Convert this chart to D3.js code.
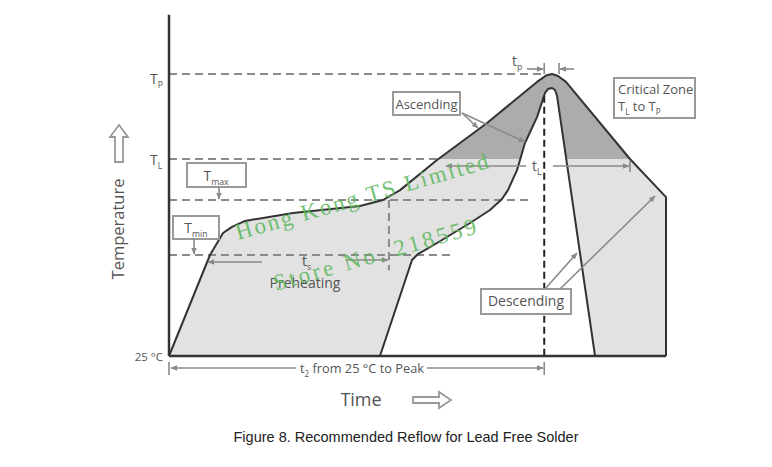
<!DOCTYPE html>
<html>
<head>
<meta charset="utf-8">
<script src="https://cdn.jsdelivr.net/npm/d3@7"></script>
<style>
  body { margin: 0; background: #fff; }
  svg { display: block; font-family: "Open Sans", sans-serif; }
</style>
</head>
<body>
<svg id="chart" width="772" height="467"></svg>
<script>
// temperature levels marked on the vertical axis
const levelKeys = ["ambient", "tmin", "tmax", "tl", "tp"];
const levelTemps = [25, 150, 200, 217, 260];
const levelGuideEnd = [null, 230, 289, 218, 302];   // time where each dashed guide stops
const topTemp = 290;
const endTime = 400;

// outer edge of the reflow window (fastest profile), time / temperature
const outerTime = [0, 33, 43.5, 50.7, 61.2, 99.8, 153.7, 172.2, 186, 215.7, 256, 296.2, 303.4, 308.3, 313.1, 319.5, 371, 400, 400];
const outerTemp = [25, 150, 170, 175.5, 181, 188.2, 194.5, 200, 204.1, 216.6, 235.2, 256, 259.2, 260, 259, 256, 217, 201.2, 25];

// inner edge (slowest profile), from the cooling foot up over the tip and back down
const innerTime = [342.9, 312.3, 310.7, 308.3, 305, 302.6, 296.2, 286.5, 280.1, 272.8, 268, 258.4, 242.3, 215.7, 200.4, 195.6, 169.8];
const innerTemp = [25, 248.9, 251.9, 252.9, 252.4, 250.4, 238.2, 225.1, 212.4, 204.1, 200.4, 190.9, 179.1, 160.9, 150.9, 143.8, 25];

const peakTime = 302;
const soakEndTime = 177;

const xScale = d3.scaleLinear().domain([0, endTime]).range([169, 666]);
const yScale = d3.scaleLinear().domain(levelTemps).range([356, 255, 200, 159, 74]);

const svg = d3.select('#chart');
const grey = '#8a8a8a';
const dark = '#333';
const label = '#555';

const defs = svg.append('defs');
defs.append('marker')
    .attr('id', 'ah')
    .attr('viewBox', '0 0 10 10')
    .attr('refX', 9).attr('refY', 5)
    .attr('markerWidth', 7).attr('markerHeight', 7)
    .attr('markerUnits', 'userSpaceOnUse')
    .attr('orient', 'auto')
  .append('path')
    .attr('d', 'M0,1L10,5L0,9Z')
    .attr('fill', grey);
defs.append('clipPath').attr('id', 'critical')
  .append('rect')
    .attr('x', 0).attr('y', 0)
    .attr('width', 772).attr('height', yScale(217));

const outer = outerTime.map((t, i) => [t, outerTemp[i]]);
const inner = innerTime.map((t, i) => [t, innerTemp[i]]);
const line = d3.line().x(d => xScale(d[0])).y(d => yScale(d[1]));

// window fill, light below TL, darker in the critical zone
const band = outer.concat(inner);
svg.append('path')
    .attr('d', line(band) + 'Z')
    .attr('fill', '#e2e2e2');
svg.append('path')
    .attr('d', line(band) + 'Z')
    .attr('clip-path', 'url(#critical)')
    .attr('fill', '#acacac');

// dashed level guides
const guides = levelKeys.map((k, i) => ({key: k, temp: levelTemps[i], end: levelGuideEnd[i]}))
    .filter(d => d.end !== null);
svg.append('g').selectAll('line')
    .data(guides)
    .enter()
    .append('line')
    .attr('x1', xScale(0))
    .attr('x2', d => xScale(d.end))
    .attr('y1', d => yScale(d.temp))
    .attr('y2', d => yScale(d.temp))
    .attr('stroke', grey)
    .attr('stroke-width', 2)
    .attr('stroke-dasharray', '8,5');

// end of soak
svg.append('line')
    .attr('x1', xScale(soakEndTime)).attr('x2', xScale(soakEndTime))
    .attr('y1', yScale(200)).attr('y2', yScale(131))
    .attr('stroke', grey).attr('stroke-width', 2)
    .attr('stroke-dasharray', '8,5');

// profile outlines
svg.append('path')
    .attr('d', line(outer))
    .attr('fill', 'none').attr('stroke', dark)
    .attr('stroke-width', 2).attr('stroke-linejoin', 'round');
svg.append('path')
    .attr('d', line(inner))
    .attr('fill', 'none').attr('stroke', dark)
    .attr('stroke-width', 2).attr('stroke-linejoin', 'round');

// peak marker
svg.append('line')
    .attr('x1', xScale(peakTime)).attr('x2', xScale(peakTime))
    .attr('y1', yScale(249)).attr('y2', yScale(25))
    .attr('stroke', '#222').attr('stroke-width', 2)
    .attr('stroke-dasharray', '7,4');

// axes
svg.append('line')
    .attr('x1', xScale(0)).attr('x2', xScale(0))
    .attr('y1', yScale(topTemp)).attr('y2', yScale(25))
    .attr('stroke', dark).attr('stroke-width', 2.5);
svg.append('line')
    .attr('x1', xScale(0)).attr('x2', xScale(endTime))
    .attr('y1', yScale(25)).attr('y2', yScale(25))
    .attr('stroke', dark).attr('stroke-width', 2.5);

function subText(x, y, parts, size, anchor) {
  const t = svg.append('text')
      .attr('x', x).attr('y', y)
      .attr('text-anchor', anchor || 'start')
      .attr('font-size', size)
      .attr('fill', label);
  let shifted = false;
  parts.forEach(p => {
    const s = t.append('tspan').text(p[0]);
    if (p[1] && !shifted) { s.attr('dy', size * 0.3).attr('font-size', size * 0.62); shifted = true; }
    else if (!p[1] && shifted) { s.attr('dy', -size * 0.3); shifted = false; }
    else if (p[1]) s.attr('font-size', size * 0.62);
  });
  return t;
}

function arrow(x1, y1, x2, y2) {
  svg.append('line')
      .attr('x1', x1).attr('y1', y1).attr('x2', x2).attr('y2', y2)
      .attr('stroke', grey).attr('stroke-width', 1.6)
      .attr('marker-end', 'url(#ah)');
}
function tick(x, y1, y2) {
  svg.append('line')
      .attr('x1', x).attr('x2', x).attr('y1', y1).attr('y2', y2)
      .attr('stroke', grey).attr('stroke-width', 1.6);
}
function box(x, y, w, h) {
  svg.append('rect')
      .attr('x', x).attr('y', y).attr('width', w).attr('height', h)
      .attr('fill', '#fff').attr('stroke', '#999').attr('stroke-width', 2);
}

// axis level labels
subText(150, yScale(260) + 10, [['T'], ['P', 1]], 14);
subText(150, yScale(217) + 6, [['T'], ['L', 1]], 14);
svg.append('text')
    .attr('x', 163).attr('y', yScale(25) + 5)
    .attr('text-anchor', 'end').attr('font-size', 11.5)
    .attr('fill', label).text('25 °C');

// Tmax / Tmin boxes
box(187, 163, 59, 24);
subText(216, 181, [['T'], ['max', 1]], 14, 'middle');
arrow(219, 187, 219, yScale(200) - 1);
box(173, 216, 46, 23);
subText(196, 233, [['T'], ['min', 1]], 14, 'middle');
arrow(194, 239, 194, yScale(150) - 1);

// preheating
subText(302, 266, [['t'], ['s', 1]], 14);
svg.append('text')
    .attr('x', 305).attr('y', 288)
    .attr('text-anchor', 'middle').attr('font-size', 14)
    .attr('fill', label).text('Preheating');
arrow(262, 262, 208, 262);
arrow(346, 260, xScale(soakEndTime) - 1, 260);

// ascending
box(393, 92, 67, 23);
svg.append('text')
    .attr('x', 426.5).attr('y', 109)
    .attr('text-anchor', 'middle').attr('font-size', 13)
    .attr('fill', label).text('Ascending');
arrow(462, 113, 478, 128);
arrow(462, 113, 525, 142);

// tp
subText(512, 66, [['t'], ['p', 1]], 14);
arrow(527, 69, xScale(peakTime) - 1, 69);
arrow(574, 69, 560, 69);
tick(xScale(peakTime), 63, 74);
tick(559, 63, 74);

// tL
subText(532, 171, [['t'], ['L', 1]], 14);
arrow(526, 166, 446, 166);
arrow(553, 166, 629, 166);
tick(630, 160, 172);

// critical zone
box(614, 78, 81, 40);
svg.append('text')
    .attr('x', 618).attr('y', 94)
    .attr('font-size', 13).attr('fill', label)
    .text('Critical Zone');
subText(618, 111, [['T'], ['L', 1], [' to T'], ['P', 1]], 13);

// descending
box(481, 289, 90, 25);
svg.append('text')
    .attr('x', 526).attr('y', 306)
    .attr('text-anchor', 'middle').attr('font-size', 14)
    .attr('fill', label).text('Descending');
arrow(545, 289, 577, 253);
arrow(560, 289, 655, 196);

// t2 span
subText(300, 373, [['t'], ['2', 1], [' from 25 °C  to Peak']], 13)
    .attr('textLength', 124).attr('lengthAdjust', 'spacingAndGlyphs');
arrow(296, 368, 171, 368);
arrow(427, 368, xScale(peakTime) - 1, 368);
tick(xScale(0), 362, 375);
tick(xScale(peakTime), 362, 375);

// axis titles with hollow arrows
svg.append('text')
    .attr('transform', 'translate(124,229) rotate(-90)')
    .attr('text-anchor', 'middle').attr('font-size', 16.5)
    .attr('fill', label).text('Temperature');
svg.append('path')
    .attr('d', 'M115,162L115,137L110,137L119,125L128,137L123,137L123,162Z')
    .attr('fill', '#fff').attr('stroke', '#999').attr('stroke-width', 1.8);
svg.append('text')
    .attr('x', 361).attr('y', 406)
    .attr('text-anchor', 'middle').attr('font-size', 18)
    .attr('fill', label).text('Time');
svg.append('path')
    .attr('d', 'M413,397L439,397L439,392L451,400L439,408L439,403L413,403Z')
    .attr('fill', '#fff').attr('stroke', '#999').attr('stroke-width', 1.8);

// watermark
svg.append('text')
    .attr('transform', 'translate(238,240) rotate(-16)')
    .style('font-family', '"Liberation Serif", serif')
    .attr('font-size', 23).attr('fill', '#5cb85c').attr('opacity', 0.85)
    .attr('textLength', 262).attr('lengthAdjust', 'spacing')
    .text('Hong Kong TS Limited');
svg.append('text')
    .attr('transform', 'translate(276,291) rotate(-16)')
    .style('font-family', '"Liberation Serif", serif')
    .attr('font-size', 23).attr('fill', '#5cb85c').attr('opacity', 0.85)
    .attr('textLength', 210).attr('lengthAdjust', 'spacing')
    .text('Store No. 218559');

// caption
svg.append('text')
    .attr('x', 406).attr('y', 442)
    .attr('text-anchor', 'middle')
    .style('font-family', '"Liberation Sans", Arial, sans-serif')
    .attr('font-size', 14.5).attr('fill', '#222')
    .text('Figure 8. Recommended Reflow for Lead Free Solder');
</script>
</body>
</html>
